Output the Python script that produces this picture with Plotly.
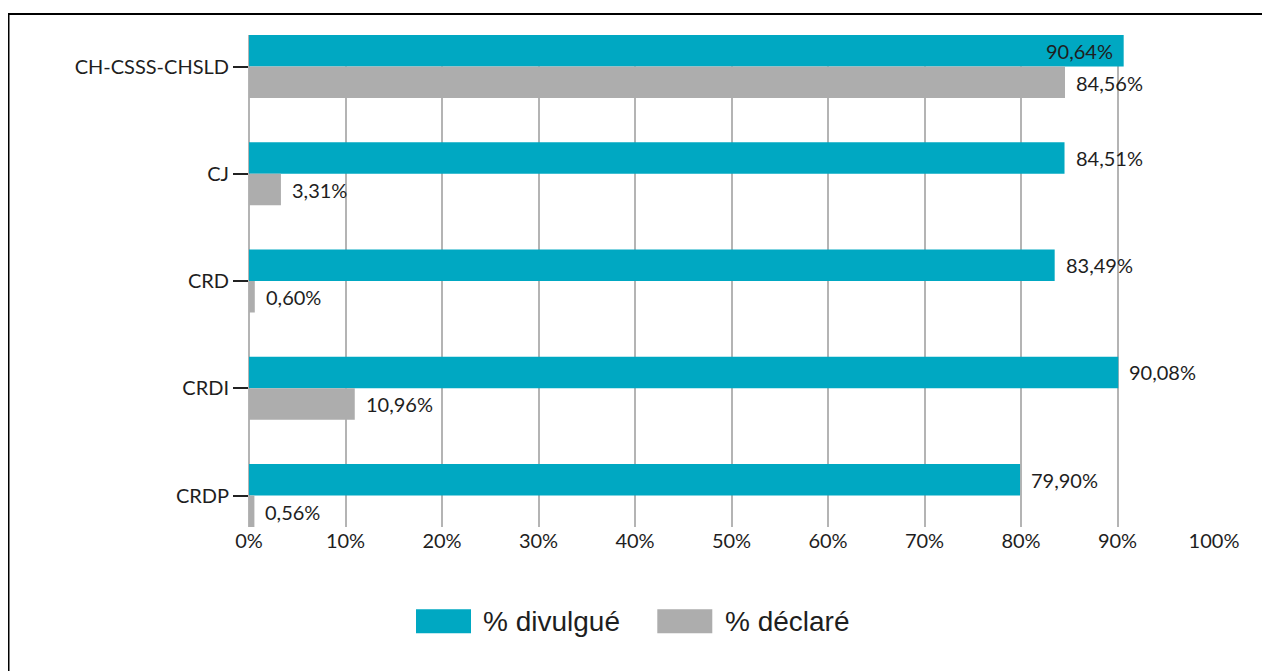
import plotly.graph_objects as go

categories = ["CH-CSSS-CHSLD", "CJ", "CRD", "CRDI", "CRDP"]
series_names = ["% divulgué", "% déclaré"]
divulgue = [90.64, 84.51, 83.49, 90.08, 79.90]
declare = [84.56, 3.31, 0.60, 10.96, 0.56]
x_tick_vals = [0, 10, 20, 30, 40, 50, 60, 70, 80, 90, 100]
x_tick_text = ["0%", "10%", "20%", "30%", "40%", "50%", "60%", "70%", "80%", "90%", "100%"]

TEAL = "#00A8C2"
GRAY = "#ADADAD"
TEXT = "#1E1E1E"
LABEL_FONT = dict(family="Lato", size=20, color=TEXT)

# page body has an 8px margin; lay out in window pixels and compensate
OX, OY = 8, 8
WIN_W, WIN_H = 1270, 671
W, H = WIN_W - OX, WIN_H - OY
L, R, T, B = 249 - OX, 64 - OX, 35 - OY, 144
pw, ph = W - L - R, H - T - B
plot_bottom = 527  # window pixel

def fmt(v):
    return f"{v:.2f}".replace(".", ",") + "%"

fig = go.Figure()
fig.add_trace(go.Bar(y=categories, x=divulgue, orientation="h", name=series_names[0],
                     marker=dict(color=TEAL, line=dict(width=0)), showlegend=False,
                     hoverinfo="x+y"))
fig.add_trace(go.Bar(y=categories, x=declare, orientation="h", name=series_names[1],
                     marker=dict(color=GRAY, line=dict(width=0)), showlegend=False,
                     hoverinfo="x+y"))

annotations = []
INSIDE_THRESHOLD = 90.5
for vals, ysh in ((divulgue, 16), (declare, -16)):
    for c, v in zip(categories, vals):
        inside = v > INSIDE_THRESHOLD
        annotations.append(dict(
            x=v, y=c, xref="x", yref="y", text=fmt(v), showarrow=False,
            xanchor="right" if inside else "left",
            xshift=-9 if inside else 9, yshift=ysh, font=LABEL_FONT))

def px_x(p):
    return (p - 249) / pw

def px_y(p):
    return (plot_bottom - p) / ph

shapes = [
    dict(type="rect", xref="paper", yref="paper", x0=px_x(8.5), x1=2.0,
         y0=-2.0, y1=px_y(14), line=dict(color="black", width=2), layer="below"),
]
legend_items = [(series_names[0], TEAL, 416, 471, 482.7), (series_names[1], GRAY, 657.3, 712.3, 725)]
for name, col, sx0, sx1, tx in legend_items:
    shapes.append(dict(type="rect", xref="paper", yref="paper", x0=px_x(sx0), x1=px_x(sx1),
                       y0=px_y(633.3), y1=px_y(609.3), fillcolor=col, line=dict(width=0)))
    annotations.append(dict(x=px_x(tx), y=px_y(621), xref="paper", yref="paper", text=name,
                            showarrow=False, xanchor="left", yanchor="middle", xshift=-2,
                            font=dict(family="Liberation Sans", size=28, color=TEXT)))

pad = 0.2937
fig.update_layout(
    width=W, height=H, autosize=False,
    margin=dict(l=L, r=R, t=T, b=B, pad=0),
    paper_bgcolor="white", plot_bgcolor="white",
    barmode="group", bargap=0.4126, bargroupgap=0,
    xaxis=dict(range=[0, 100], tickvals=x_tick_vals, ticktext=x_tick_text,
               showgrid=True, gridcolor="#B4B4B4", gridwidth=2,
               zeroline=True, zerolinecolor="#B4B4B4", zerolinewidth=2,
               showline=False, ticks="", tickfont=LABEL_FONT, fixedrange=True),
    yaxis=dict(type="category", categoryorder="array", categoryarray=categories,
               range=[len(categories) - 1 + pad, -pad],
               showgrid=False, zeroline=False, showline=False,
               ticks="outside", ticklen=15, tickwidth=2, tickcolor="#222222",
               tickfont=LABEL_FONT, fixedrange=True),
    shapes=shapes, annotations=annotations,
)

fig.write_html("out.html")
